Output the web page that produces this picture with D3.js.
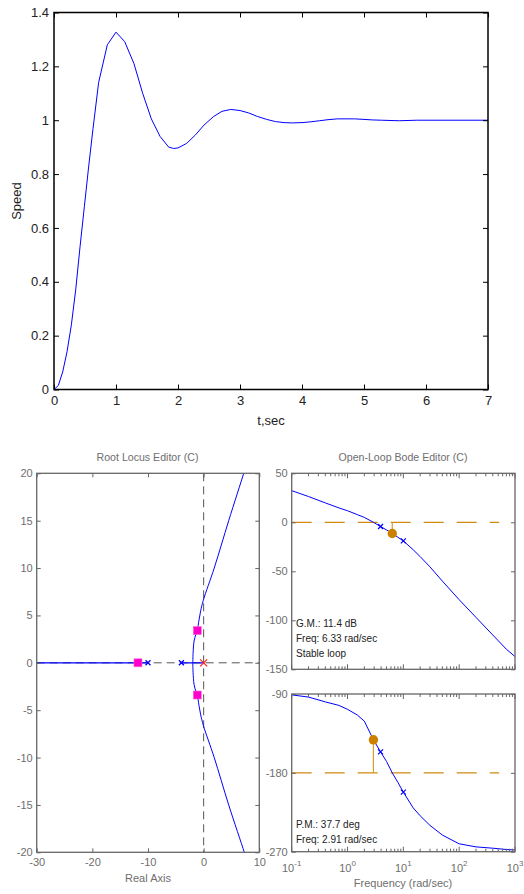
<!DOCTYPE html>
<html>
<head>
<meta charset="utf-8">
<script src="https://cdn.jsdelivr.net/npm/d3@7"></script>
<style>
body { margin: 0; background: #fff; }
svg { display: block; font-family: "Liberation Sans", Arial, sans-serif; }
</style>
</head>
<body>
<svg id="chart" width="524" height="894"></svg>
<script>
// ---- step response (top plot)
var time  = [0, 0.07, 0.14, 0.21, 0.28, 0.35, 0.42, 0.49, 0.56, 0.63, 0.72, 0.86, 1.00, 1.14, 1.29, 1.43,
             1.57, 1.71, 1.85, 1.93, 2.00, 2.14, 2.28, 2.42, 2.57, 2.71, 2.85, 3.00, 3.14, 3.28, 3.43,
             3.57, 3.71, 3.85, 4.00, 4.14, 4.28, 4.42, 4.57, 4.71, 4.85, 5.00, 5.14, 5.28, 5.42, 5.57,
             5.71, 5.85, 6.00, 6.50, 7.00];
var speed = [0, 0.015, 0.065, 0.14, 0.24, 0.37, 0.53, 0.68, 0.83, 0.97, 1.14, 1.28, 1.327, 1.292, 1.21, 1.10,
             1.005, 0.94, 0.90, 0.895, 0.897, 0.914, 0.945, 0.982, 1.013, 1.033, 1.040, 1.036, 1.027, 1.014, 1.003,
             0.995, 0.991, 0.990, 0.991, 0.994, 0.998, 1.002, 1.005, 1.005, 1.005, 1.003, 1.001, 1.000, 0.999, 0.998,
             0.999, 1.000, 1.000, 1.000, 1.000];
var timeTicks  = [0, 1, 2, 3, 4, 5, 6, 7];
var speedTicks = [0, 0.2, 0.4, 0.6, 0.8, 1, 1.2, 1.4];

// ---- root locus
var rlXTicks = [-30, -20, -10, 0, 10];
var rlYTicks = [-20, -15, -10, -5, 0, 5, 10, 15, 20];
var realBranchLeft  = [[-30, 0], [-10, 0]];
var realBranchRight = [[-4, 0], [0, 0]];
var upperBranch = [[-1.95, 0], [-1.9, 1], [-1.72, 2.3], [-1.4, 3.0], [-1.14, 3.43], [-0.84, 4.5],
                   [-0.53, 5.5], [-0.06, 6.6], [1.9, 10], [4.5, 15], [7.2, 20], [7.5, 20.6]];
var lowerBranch = [[-1.95, 0], [-1.9, -1], [-1.72, -2.3], [-1.4, -3.0], [-1.14, -3.43], [-0.84, -4.5],
                   [-0.53, -5.5], [-0.06, -6.6], [1.9, -10], [4.5, -15], [7.3, -20], [7.6, -20.6]];
var closedLoopPoles = [[-11.8, 0], [-1.14, 3.4], [-1.14, -3.4]];
var compPoles  = [[-10, 0], [-4, 0]];
var plantPoles = [[0, 0]];

// ---- open-loop bode
var freq  = [0.1, 0.2, 0.4, 0.7, 1, 1.5, 2, 2.91, 3.9, 5, 6.33, 8, 10, 15, 20, 30, 50, 100, 200, 400, 700, 1000];
var magDb = [32.3, 26.3, 19.8, 14.7, 11.8, 7.8, 5.0, 0, -4.3, -7.8, -11.4, -15.3, -19, -28, -35, -45.5, -60,
             -79, -97, -115, -129.5, -137];
var phase = [-91, -93.5, -99, -103, -107.5, -114, -121, -142.3, -156, -167, -180, -191, -202, -220, -229, -240,
             -251, -261, -264.5, -266, -267.5, -268];
var magTicks   = [-150, -100, -50, 0, 50];
var phaseTicks = [-270, -180, -90];
var freqTicks  = [0.1, 1, 10, 100, 1000];
var compFreqs  = [3.9, 10];
var compMag    = [-4.3, -19];
var compPhase  = [-156, -202];
var gainMargin  = {freq: 6.33, value: -11.4, ref: 0};
var phaseMargin = {freq: 2.91, value: -142.3, ref: -180};
var marginLineSpan = [0.1, 520];

var svg = d3.select('#chart');
var gray = '#666', grayText = '#6e6e6e', orange = '#cc8000';
var noLabel = function() { return ''; };
var plain = function(d) { return String(d); };

function styleAxis(g, color, size) {
  g.attr('font-family', null).attr('font-size', size);
  g.select('.domain').remove();
  g.selectAll('line').attr('stroke', color);
  g.selectAll('text').attr('fill', color === '#000' ? '#222' : grayText);
}

// ================= top plot =================
var tx = d3.scaleLinear().domain([0, 7]).range([54, 488]);
var ty = d3.scaleLinear().domain([0, 1.4]).range([389.5, 12.5]);
var gTop = svg.append('g');

gTop.append('path')
  .datum(d3.zip(time, speed))
  .attr('fill', 'none').attr('stroke', '#0000ff').attr('stroke-width', 1)
  .attr('d', d3.line().x(function(d) { return tx(d[0]); }).y(function(d) { return ty(d[1]); }));

gTop.append('g').attr('transform', 'translate(0,389.5)')
  .call(d3.axisBottom(tx).tickValues(timeTicks).tickSize(-5).tickPadding(6).tickFormat(plain))
  .call(styleAxis, '#000', 13);
gTop.append('g').attr('transform', 'translate(0,12.5)')
  .call(d3.axisTop(tx).tickValues(timeTicks).tickSize(-5).tickFormat(noLabel))
  .call(styleAxis, '#000', 13);
gTop.append('g').attr('transform', 'translate(54,0)')
  .call(d3.axisLeft(ty).tickValues(speedTicks).tickSize(-5).tickPadding(5).tickFormat(function(d) { return String(+d.toFixed(1)); }))
  .call(styleAxis, '#000', 13);
gTop.append('g').attr('transform', 'translate(488,0)')
  .call(d3.axisRight(ty).tickValues(speedTicks).tickSize(-5).tickFormat(noLabel))
  .call(styleAxis, '#000', 13);
gTop.append('rect').attr('x', 54).attr('y', 12.5).attr('width', 434).attr('height', 377)
  .attr('fill', 'none').attr('stroke', '#000').attr('stroke-width', 1.5);

gTop.append('text').attr('transform', 'translate(21,201) rotate(-90)')
  .attr('text-anchor', 'middle').attr('font-size', 13).attr('fill', '#222').text('Speed');
gTop.append('text').attr('x', 271).attr('y', 425)
  .attr('text-anchor', 'middle').attr('font-size', 13).attr('fill', '#222').text('t,sec');

// ================= root locus =================
var rx = d3.scaleLinear().domain([-30, 10]).range([36.7, 259.3]);
var ry = d3.scaleLinear().domain([-20, 20]).range([852.3, 473.3]);
var gRL = svg.append('g');

svg.append('clipPath').attr('id', 'rlclip').append('rect')
  .attr('x', 36.7).attr('y', 473.3).attr('width', 222.6).attr('height', 379);

gRL.append('line').attr('x1', rx(0)).attr('x2', rx(0)).attr('y1', ry(20)).attr('y2', ry(-20))
  .attr('stroke', '#555').attr('stroke-dasharray', '8,5');
gRL.append('line').attr('x1', rx(-30)).attr('x2', rx(10)).attr('y1', ry(0)).attr('y2', ry(0))
  .attr('stroke', '#555').attr('stroke-dasharray', '8,5');

var rlLine = d3.line().x(function(d) { return rx(d[0]); }).y(function(d) { return ry(d[1]); });
gRL.append('g').attr('clip-path', 'url(#rlclip)').selectAll('path')
  .data([realBranchLeft, realBranchRight])
  .enter().append('path')
  .attr('fill', 'none').attr('stroke', '#0000ff').attr('stroke-width', 1.2)
  .attr('d', rlLine);
gRL.append('g').attr('clip-path', 'url(#rlclip)').selectAll('path')
  .data([upperBranch, lowerBranch])
  .enter().append('path')
  .attr('fill', 'none').attr('stroke', '#0000ff').attr('stroke-width', 1)
  .attr('d', rlLine.curve(d3.curveCatmullRom));

function cross(g, pts, xs, ys, size, color, width) {
  g.selectAll(null).data(pts).enter().append('path')
    .attr('fill', 'none').attr('stroke', color).attr('stroke-width', width)
    .attr('d', function(d) {
      var x = xs(d[0]), y = ys(d[1]), s = size / 2;
      return 'M' + (x - s) + ',' + (y - s) + 'L' + (x + s) + ',' + (y + s) +
             'M' + (x - s) + ',' + (y + s) + 'L' + (x + s) + ',' + (y - s);
    });
}
cross(gRL, compPoles, rx, ry, 5, '#0000ff', 1.3);
cross(gRL, plantPoles, rx, ry, 7, '#ff2020', 1.2);
gRL.selectAll(null).data(closedLoopPoles).enter().append('rect')
  .attr('x', function(d) { return rx(d[0]) - 4; })
  .attr('y', function(d) { return ry(d[1]) - 4; })
  .attr('width', 8).attr('height', 8)
  .attr('fill', '#ff00cc').attr('stroke', '#ff66dd').attr('stroke-width', 0.6);

gRL.append('g').attr('transform', 'translate(0,852.3)')
  .call(d3.axisBottom(rx).tickValues(rlXTicks).tickSize(-4).tickPadding(6).tickFormat(plain))
  .call(styleAxis, gray, 11);
gRL.append('g').attr('transform', 'translate(0,473.3)')
  .call(d3.axisTop(rx).tickValues(rlXTicks).tickSize(-4).tickFormat(noLabel))
  .call(styleAxis, gray, 11);
gRL.append('g').attr('transform', 'translate(36.7,0)')
  .call(d3.axisLeft(ry).tickValues(rlYTicks).tickSize(-4).tickPadding(4).tickFormat(plain))
  .call(styleAxis, gray, 11);
gRL.append('g').attr('transform', 'translate(259.3,0)')
  .call(d3.axisRight(ry).tickValues(rlYTicks).tickSize(-4).tickFormat(noLabel))
  .call(styleAxis, gray, 11);
gRL.append('rect').attr('x', 36.7).attr('y', 473.3).attr('width', 222.6).attr('height', 379)
  .attr('fill', 'none').attr('stroke', gray).attr('stroke-width', 1.3);

gRL.append('text').attr('x', 147.5).attr('y', 461).attr('text-anchor', 'middle')
  .attr('font-size', 10.6).attr('fill', grayText).text('Root Locus Editor (C)');
gRL.append('text').attr('x', 148).attr('y', 882).attr('text-anchor', 'middle')
  .attr('font-size', 11).attr('fill', grayText).text('Real Axis');

// ================= bode =================
var fx = d3.scaleLog().domain([0.1, 1000]).range([291.7, 515]);
var my = d3.scaleLinear().domain([-150, 50]).range([669.3, 473.3]);
var py = d3.scaleLinear().domain([-270, -90]).range([851.7, 694]);
var minorFreqs = fx.ticks().filter(function(f) { return freqTicks.indexOf(f) < 0; });

function bodePanel(ys, vals, yTicks, comp, margin, noteY, notes) {
  var g = svg.append('g');
  var yr = ys.range();
  var line = d3.line().x(function(d) { return fx(d[0]); }).y(function(d) { return ys(d[1]); });

  g.append('line').attr('x1', fx(marginLineSpan[0])).attr('x2', fx(marginLineSpan[1]))
    .attr('y1', ys(margin.ref)).attr('y2', ys(margin.ref))
    .attr('stroke', '#d08a10').attr('stroke-width', 1.2).attr('stroke-dasharray', '20,13');
  g.append('line').attr('x1', fx(margin.freq)).attr('x2', fx(margin.freq))
    .attr('y1', ys(margin.ref)).attr('y2', ys(margin.value))
    .attr('stroke', '#d99a30').attr('stroke-width', 1.2);

  g.append('path').datum(d3.zip(freq, vals))
    .attr('fill', 'none').attr('stroke', '#0000ff').attr('stroke-width', 1).attr('d', line);

  g.append('circle').attr('cx', fx(margin.freq)).attr('cy', ys(margin.value)).attr('r', 4.7)
    .attr('fill', orange);
  cross(g, d3.zip(compFreqs, comp), fx, ys, 5, '#0000ff', 1.2);

  // log ticks, inward, top and bottom
  [yr[0], yr[1]].forEach(function(yy, i) {
    var dir = i === 0 ? -1 : 1;
    g.selectAll(null).data(freqTicks).enter().append('line')
      .attr('x1', fx).attr('x2', fx).attr('y1', yy).attr('y2', yy + dir * 5).attr('stroke', gray);
    g.selectAll(null).data(minorFreqs).enter().append('line')
      .attr('x1', fx).attr('x2', fx).attr('y1', yy).attr('y2', yy + dir * 3).attr('stroke', gray);
  });
  g.append('g').attr('transform', 'translate(291.7,0)')
    .call(d3.axisLeft(ys).tickValues(yTicks).tickSize(-4).tickPadding(4).tickFormat(plain))
    .call(styleAxis, gray, 11);
  g.append('g').attr('transform', 'translate(515,0)')
    .call(d3.axisRight(ys).tickValues(yTicks).tickSize(-4).tickFormat(noLabel))
    .call(styleAxis, gray, 11);
  g.append('rect').attr('x', 291.7).attr('y', yr[1]).attr('width', 223.3).attr('height', yr[0] - yr[1])
    .attr('fill', 'none').attr('stroke', gray).attr('stroke-width', 1.3);

  g.selectAll(null).data(notes).enter().append('text')
    .attr('x', 296).attr('y', function(d, i) { return noteY + i * 15; })
    .attr('font-size', 10).attr('fill', '#222').text(function(d) { return d; });
  return g;
}

bodePanel(my, magDb, magTicks, compMag, gainMargin, 627,
  ['G.M.: 11.4 dB', 'Freq: 6.33 rad/sec', 'Stable loop']);
var gPh = bodePanel(py, phase, phaseTicks, compPhase, phaseMargin, 828,
  ['P.M.: 37.7 deg', 'Freq: 2.91 rad/sec']);

var fl = gPh.selectAll(null).data(freqTicks).enter().append('text')
  .attr('x', fx).attr('y', 872).attr('text-anchor', 'middle')
  .attr('font-size', 11).attr('fill', grayText);
fl.append('tspan').text('10');
fl.append('tspan').attr('dy', -6).attr('font-size', 8)
  .text(function(d) { return String(Math.round(Math.log10(d))); });

svg.append('text').attr('x', 403).attr('y', 461).attr('text-anchor', 'middle')
  .attr('font-size', 10.6).attr('fill', grayText).text('Open-Loop Bode Editor (C)');
svg.append('text').attr('x', 403).attr('y', 887).attr('text-anchor', 'middle')
  .attr('font-size', 11).attr('fill', grayText).text('Frequency (rad/sec)');
</script>
</body>
</html>
